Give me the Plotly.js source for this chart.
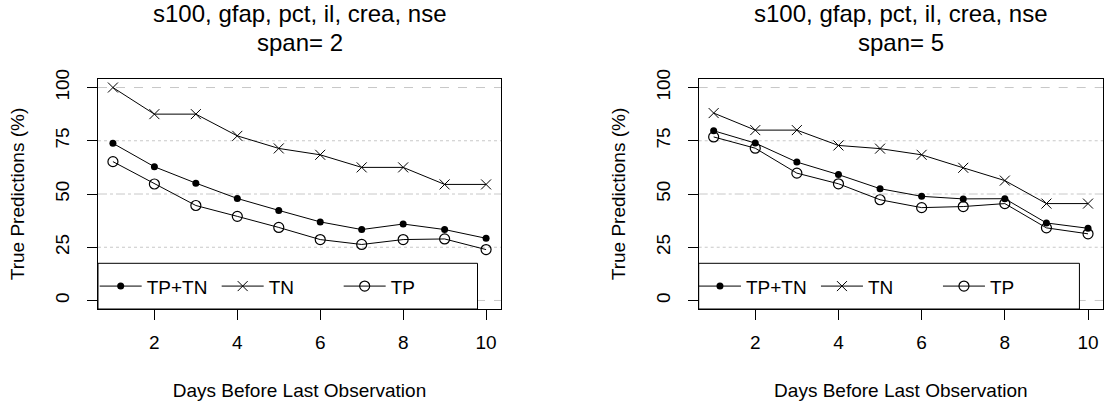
<!DOCTYPE html>
<html><head><meta charset="utf-8">
<script src="https://cdn.plot.ly/plotly-3.0.1.min.js"></script>
<style>html,body{margin:0;padding:0;background:#fff}</style>
</head><body><div id="chart" style="width:1105px;height:407px"></div>
<script>
// ---- data ----
const days = [1, 2, 3, 4, 5, 6, 7, 8, 9, 10];
const span2TPTN = [73.8, 62.8, 55.1, 47.9, 42.3, 36.9, 33.3, 35.9, 33.3, 29.2];
const span2TN   = [100, 87.5, 87.5, 77.3, 71.4, 68.4, 62.5, 62.5, 54.5, 54.5];
const span2TP   = [65.2, 54.7, 44.6, 39.5, 34.3, 28.6, 26.3, 28.6, 28.9, 23.9];
const span5TPTN = [79.7, 73.9, 65.0, 59.1, 52.5, 48.9, 47.7, 47.8, 36.4, 33.9];
const span5TN   = [88.0, 80.0, 80.0, 72.8, 71.3, 68.4, 62.3, 56.3, 45.5, 45.5];
const span5TP   = [76.8, 71.5, 59.8, 54.8, 47.3, 43.6, 44.1, 45.5, 34.1, 31.3];
const seriesNames = ['TP+TN', 'TN', 'TP'];
const titleLine1 = 's100, gfap, pct, il, crea, nse';
const spans = ['span= 2', 'span= 5'];
const xTicks = [2, 4, 6, 8, 10];
const yTicks = [0, 25, 50, 75, 100];
const xLabel = 'Days Before Last Observation';
const yLabel = 'True Predictions (%)';

// ---- styling ----
const FONT = 'Liberation Sans, Arial, Helvetica, sans-serif';
const markers = [
  {symbol: 'circle', size: 7, color: 'black'},
  {symbol: 'x-thin-open', size: 10, color: 'black', line: {width: 1, color: 'black'}},
  {symbol: 'circle-open', size: 10, color: 'black', line: {width: 1.2, color: 'black'}}
];
const gridDash = {0: 'dash', 25: 'dot', 50: 'dashdot', 75: 'dot', 100: 'dash'};

const panels = [
  {series: [span2TPTN, span2TN, span2TP], xa: 'x', ya: 'y', legend: 'legend', dom: [0, 0.401], legX: -0.0033},
  {series: [span5TPTN, span5TN, span5TP], xa: 'x2', ya: 'y2', legend: 'legend2', dom: [0.5977, 1], legX: 0.593}
];

const traces = [];
const shapes = [];
const annotations = [];
panels.forEach((p, pi) => {
  p.series.forEach((vals, si) => {
    traces.push({
      type: 'scatter', mode: 'lines+markers', x: days, y: vals,
      name: seriesNames[si], xaxis: p.xa, yaxis: p.ya, legend: p.legend,
      line: {color: 'black', width: 1}, marker: markers[si], cliponaxis: false
    });
  });
  const xd = p.xa + ' domain', yd = p.ya + ' domain';
  yTicks.forEach(v => {
    shapes.push({type: 'line', layer: 'below', xref: xd, x0: 0, x1: 1, yref: p.ya, y0: v, y1: v,
      line: {color: '#c8c8c8', width: 1, dash: gridDash[v]}});
  });
  shapes.push({type: 'rect', layer: 'below', xref: xd, x0: 0, x1: 0.9417, yref: yd, y0: 0, y1: 0.1987,
    fillcolor: 'white', line: {color: 'black', width: 1}});
  annotations.push({xref: xd, x: 0.5, yref: 'paper', y: 1.285, yanchor: 'middle', showarrow: false,
    text: titleLine1, font: {family: FONT, size: 24, color: 'black'}});
  annotations.push({xref: xd, x: 0.5, yref: 'paper', y: 1.16, yanchor: 'middle', showarrow: false,
    text: spans[pi], font: {family: FONT, size: 24, color: 'black'}});
});

function xaxis(dom, anchor) {
  return {domain: dom, anchor: anchor, range: [0.64, 10.36], tickvals: xTicks, ticks: 'outside', ticklen: 10,
    tickcolor: 'black', showline: true, mirror: true, linecolor: 'black', linewidth: 1, ticklabelstandoff: 6,
    showgrid: false, zeroline: false, tickfont: {family: FONT, size: 19, color: 'black'},
    title: {text: xLabel, font: {family: FONT, size: 19, color: 'black'}, standoff: 31}};
}
function yaxis(anchor) {
  return {domain: [0, 1], anchor: anchor, range: [-4, 104], tickvals: yTicks, ticks: 'outside', ticklen: 10,
    tickcolor: 'black', tickangle: -90, showline: true, mirror: true, linecolor: 'black', linewidth: 1,
    ticklabelstandoff: 10,
    showgrid: false, zeroline: false, tickfont: {family: FONT, size: 19, color: 'black'},
    title: {text: yLabel, font: {family: FONT, size: 19, color: 'black'}, standoff: 22}};
}
function legend(x) {
  return {orientation: 'h', xref: 'paper', x: x, xanchor: 'left', yref: 'paper', y: 0.099, yanchor: 'middle',
    bgcolor: 'rgba(0,0,0,0)', borderwidth: 0, entrywidth: 65, entrywidthmode: 'pixels', itemwidth: 42,
    font: {family: FONT, size: 19, color: 'black'}};
}

const layout = {
  width: 1105, height: 407, margin: {l: 98, r: 2, t: 79, b: 98},
  paper_bgcolor: 'white', plot_bgcolor: 'white', font: {family: FONT, color: 'black'},
  xaxis: xaxis(panels[0].dom, 'y'), yaxis: yaxis('x'),
  xaxis2: xaxis(panels[1].dom, 'y2'), yaxis2: yaxis('x2'),
  legend: legend(panels[0].legX), legend2: legend(panels[1].legX),
  shapes: shapes, annotations: annotations
};
Plotly.newPlot('chart', traces, layout, {displayModeBar: false, staticPlot: true});
</script>
</body></html>
